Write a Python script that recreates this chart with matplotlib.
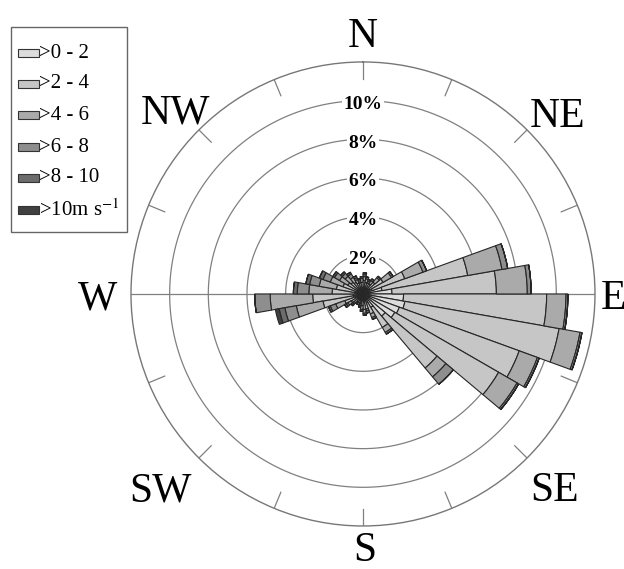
import matplotlib
matplotlib.use('Agg')
import matplotlib.pyplot as plt
from matplotlib.patches import Rectangle
import numpy as np

plt.rcParams['font.family'] = 'serif'
plt.rcParams['font.serif'] = ['Liberation Serif']
plt.rcParams['mathtext.fontset'] = 'stix'

# 36 sectors of 10 degrees, starting at N and going clockwise (0-10, 10-20, ...)
sectorStart = list(range(0, 360, 10))
speedClasses = ['>0 - 2', '>2 - 4', '>4 - 6', '>6 - 8', '>8 - 10', r'>10m s$^{-1}$']

# frequency (%) per speed class for each sector
c0to2 = [0.3, 0.3, 0.3, 0.3, 0.3, 0.4, 0.5, 1.0, 1.5, 2.1, 2.2, 2.0, 1.9, 1.5, 0.8, 0.5, 0.4, 0.4,
         0.3, 0.3, 0.3, 0.3, 0.3, 0.3, 0.4, 0.5, 0.5, 0.4, 0.4, 0.3, 0.3, 0.3, 0.3, 0.3, 0.3, 0.3]
c2to4 = [0.4, 0.3, 0.3, 0.3, 0.5, 0.8, 1.8, 4.5, 5.4, 7.4, 8.1, 6.6, 6.2, 3.5, 1.2, 0.6, 0.4, 0.4,
         0.3, 0.2, 0.2, 0.2, 0.3, 0.4, 0.6, 1.6, 2.1, 1.2, 1.0, 0.8, 0.6, 0.5, 0.4, 0.3, 0.3, 0.3]
c4to6 = [0.2, 0.2, 0.1, 0.2, 0.3, 0.5, 1.0, 1.8, 1.6, 1.0, 1.1, 1.0, 1.1, 0.6, 0.3, 0.2, 0.1, 0.2,
         0.2, 0.1, 0.1, 0.1, 0.1, 0.2, 0.5, 1.4, 2.2, 1.2, 0.9, 0.7, 0.5, 0.4, 0.3, 0.2, 0.1, 0.2]
c6to8 = [0.1, 0.1, 0.1, 0.1, 0.1, 0.1, 0.2, 0.3, 0.2, 0.1, 0.1, 0.1, 0.1, 0.5, 0.1, 0.1, 0.1, 0.1,
         0.1, 0.1, 0.0, 0.0, 0.1, 0.1, 0.3, 0.6, 0.8, 0.6, 0.5, 0.4, 0.3, 0.2, 0.2, 0.1, 0.1, 0.1]
c8to10 = [0.1, 0.0, 0.0, 0.0, 0.0, 0.0, 0.0, 0.0, 0.0, 0.0, 0.0, 0.0, 0.0, 0.0, 0.0, 0.0, 0.0, 0.0,
          0.0, 0.0, 0.0, 0.0, 0.0, 0.1, 0.1, 0.3, 0.0, 0.2, 0.2, 0.2, 0.1, 0.1, 0.1, 0.1, 0.0, 0.0]
c10plus = [0.0, 0.0, 0.0, 0.0, 0.0, 0.0, 0.0, 0.0, 0.0, 0.0, 0.0, 0.0, 0.0, 0.0, 0.0, 0.0, 0.0, 0.0,
           0.0, 0.0, 0.0, 0.0, 0.0, 0.0, 0.0, 0.2, 0.0, 0.0, 0.0, 0.0, 0.0, 0.0, 0.0, 0.0, 0.0, 0.0]

ringValues = [2, 4, 6, 8, 10]
compassLabels = ['N', 'NE', 'E', 'SE', 'S', 'SW', 'W', 'NW']
# label baseline positions in pixels (from top-left)
compassPx = [(363, 47), (558, 127), (613, 309), (555, 501), (365, 561), (160, 501), (98, 309), (175, 124)]

colors = ['#dcdcdc', '#c6c6c6', '#aaaaaa', '#8e8e8e', '#6c6c6c', '#404040']
series = [c0to2, c2to4, c4to6, c6to8, c8to10, c10plus]

W, H = 624, 569
fig = plt.figure(figsize=(6.24, 5.69), dpi=100)
ax = fig.add_axes([0.2099, 0.0756, 0.7436, 0.8155], projection='polar')
ax.set_theta_zero_location('N')
ax.set_theta_direction(-1)
ax.set_ylim(0, 12)
ax.set_xticks([])
ax.set_yticks([])
ax.grid(False)
ax.spines['polar'].set_color('#777777')
ax.spines['polar'].set_linewidth(1.0)

gridColor = '#808080'
full = np.linspace(0, 2 * np.pi, 400)
for r in ringValues:
    ax.plot(full, [r] * len(full), color=gridColor, lw=0.9, zorder=1)
ax.plot([np.pi / 2, np.pi / 2], [0, 12], color=gridColor, lw=0.9, zorder=1)
ax.plot([3 * np.pi / 2, 3 * np.pi / 2], [0, 12], color=gridColor, lw=0.9, zorder=1)
for a in np.arange(0, 360, 22.5):
    if a in (90, 270):
        continue
    ax.plot([np.deg2rad(a)] * 2, [11.1, 12], color=gridColor, lw=0.9, zorder=1)

theta = np.deg2rad(sectorStart)
bottom = np.zeros(len(sectorStart))
for vals, col in zip(series, colors):
    vals = np.array(vals)
    ax.bar(theta, vals, width=np.deg2rad(10), bottom=bottom, align='edge',
           color=col, edgecolor='#262626', linewidth=0.8, zorder=3)
    bottom = bottom + vals

for r in ringValues:
    ax.text(0, r - 0.2, f'{r}%', ha='center', va='center', fontsize=14, fontweight='bold',
            bbox=dict(facecolor='white', edgecolor='none', pad=1.0), zorder=4)

for lab, (px, py) in zip(compassLabels, compassPx):
    fig.text(px / W, 1 - py / H, lab, ha='center', va='baseline', fontsize=30)

# legend box drawn by hand so it matches the original layout
fig.patches.append(Rectangle((11 / W, 1 - 232 / H), 116 / W, 205 / H, transform=fig.transFigure,
                             facecolor='white', edgecolor='#666666', lw=1.0))
rowY = [53, 84, 115, 147, 178, 210]
for yy, col, lab in zip(rowY, colors, speedClasses):
    fig.patches.append(Rectangle((18 / W, 1 - (yy + 4) / H), 21 / W, 8 / H, transform=fig.transFigure,
                                 facecolor=col, edgecolor='#333333', lw=0.8))
    fig.text(39 / W, 1 - yy / H, lab, ha='left', va='center', fontsize=15)

plt.savefig('out.png', dpi=100)
